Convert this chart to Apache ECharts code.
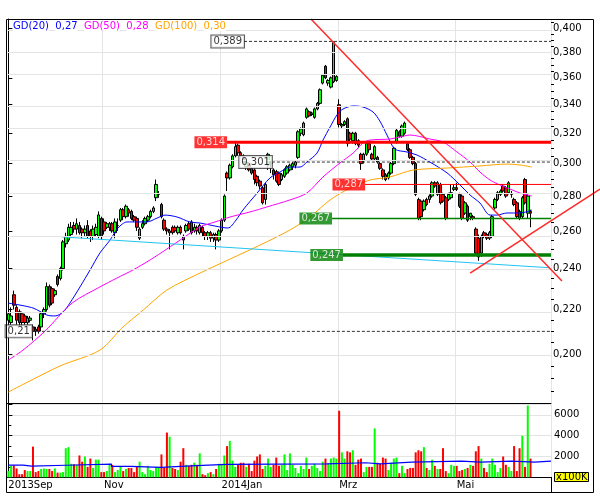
<!DOCTYPE html>
<html><head><meta charset="utf-8">
<script src="https://cdn.jsdelivr.net/npm/echarts@6/dist/echarts.min.js"></script>
<style>html,body{margin:0;padding:0;background:#fff}#c{width:600px;height:500px}</style>
</head><body><div id="c"></div>
<script>
// ---------- data (prices in thousandths) ----------
const slotCount = 199;
const monthIdx = [0, 35, 78, 121, 164];
const monthNames = ['2013Sep', 'Nov', '2014Jan', 'Mrz', 'Mai'];

const openK = [215,214,227,221,219,218,217,214,215,212,211,212,212,218,220,231,230,227,236,235,
240,253,255,258,263,261,263,261,259,263,260,257,258,257,267,265,262,262,264,259,
263,266,272,268,272,271,268,267,256,262,264,266,268,271,279,281,275,266,261,259,
262,262,259,262,257,260,264,265,260,262,259,262,259,257,259,256,258,255,260,266,
294,291,298,305,312,307,305,298,300,297,296,292,289,285,278,299,300,296,295,294,
290,292,294,296,298,299,304,320,319,331,335,333,331,337,341,356,369,356,353,357,
358,340,325,326,330,320,315,320,315,306,302,306,313,306,303,304,300,296,293,291,
294,300,314,321,318,320,313,309,304,300,278,277,272,278,278,280,288,281,287,281,
279,278,279,284,285,281,280,270,274,268,268,261,256,248,259,258,256,257,273,278,
281,286,285,282,281,278,276,271,268,290,270,271];
const highK = [222,221,229,222,220,219,218,217,217,213,212,213,219,221,233,232,231,230,237,241,
255,259,264,265,265,267,265,262,263,266,261,263,264,271,268,267,265,265,265,267,
267,273,273,275,273,272,269,268,262,266,268,269,272,274,290,283,276,267,262,261,
263,263,263,263,258,264,265,266,264,263,264,263,260,260,260,259,259,261,267,281,
295,300,306,314,313,308,306,302,301,298,297,293,290,286,288,307,302,297,296,295,
294,297,299,300,301,302,322,324,328,338,336,335,338,342,352,363,370,359,361,389,
362,344,327,329,331,321,321,321,316,307,307,314,314,307,312,305,301,297,294,295,
301,311,323,322,326,328,314,310,305,301,279,278,278,279,281,289,289,289,288,282,
280,282,287,287,288,282,281,277,275,270,269,262,258,258,260,259,260,269,279,283,
284,287,286,289,283,279,277,272,280,291,281,272];
const lowK = [213,213,220,213,212,212,213,213,214,206,208,209,210,216,219,221,222,226,231,234,
239,251,254,257,259,258,258,256,257,256,254,255,257,256,255,258,261,260,259,256,
260,265,266,267,268,266,265,260,255,261,263,265,267,270,277,279,267,260,258,250,
258,259,258,258,250,259,260,258,259,258,258,257,255,255,254,254,250,254,259,265,
283,290,297,304,305,304,300,296,295,293,287,286,284,275,275,296,294,290,288,286,
289,291,293,295,296,297,303,318,318,330,331,332,330,336,340,355,359,354,352,356,
357,324,323,325,311,313,313,312,310,296,300,305,307,302,302,300,296,290,289,290,
293,299,313,317,317,319,308,303,299,280,266,266,271,274,276,279,285,280,275,276,
266,277,278,283,283,273,266,269,265,266,266,247,244,246,256,255,255,256,272,277,
280,282,279,281,279,274,267,266,267,275,267,262];
const closeK = [218,217,222,215,214,214,214,216,216,210,210,210,218,220,231,222,223,229,232,240,
254,257,262,262,261,264,259,259,261,257,257,261,262,269,257,260,264,264,260,265,
263,272,268,274,270,267,266,262,261,264,267,268,271,273,287,281,268,261,260,260,
259,260,262,259,255,263,261,259,262,260,263,259,257,259,256,258,255,260,266,280,
291,299,305,311,307,305,301,301,296,294,290,288,286,276,287,306,300,293,289,287,
293,296,298,299,300,301,321,323,327,337,332,334,337,341,351,362,360,358,360,388,
361,326,326,328,313,316,320,313,312,300,306,313,309,303,311,301,297,292,290,294,
300,310,322,318,325,327,309,304,300,281,267,268,277,275,280,288,286,288,276,277,
267,281,282,285,284,274,267,276,266,270,267,248,246,257,257,256,259,268,278,282,
283,283,280,288,281,275,268,267,279,276,280,270];
// volume in units of 100K
const volume = [600,1100,1150,850,300,300,700,600,600,2950,500,600,800,850,800,800,600,850,450,450,
500,2800,2900,1300,1250,1200,2100,1500,2000,1000,1800,900,1700,1700,500,500,600,1300,1200,500,
700,1000,600,800,900,900,500,1000,1500,500,300,1100,700,600,1000,1000,2200,900,4300,3900,
900,800,700,1500,2800,1200,1100,1200,1400,1200,2300,300,200,400,500,300,800,1300,1300,2100,
3000,3500,1600,1000,1200,1400,1400,1000,1300,600,1600,2000,2200,800,1100,1800,1000,1200,1900,1100,
1200,2200,700,2300,1200,900,400,1100,800,1900,800,1100,1300,900,600,1500,1800,1300,1800,1900,
1800,6400,2400,1800,2500,2400,2600,1200,1700,1800,500,1000,1000,1000,4700,1400,1300,1900,1800,700,
1400,1800,1900,400,1100,400,800,900,900,2400,2600,2500,2900,900,700,1700,1100,800,800,2800,
600,400,1200,1100,1100,600,700,800,900,1200,1100,2500,3000,1800,900,500,1300,1800,1200,500,
900,2000,1200,1000,600,3000,600,2800,4000,1000,6900,1800];
// volume moving average: [slot position, value]
const volAvg = [[0,1170],[5.4,1080],[8.5,1160],[20.9,1270],[37.7,1050],[44.8,950],[56,1050],[63,1150],
[71,1250],[80,1300],[116.5,1400],[130.6,1300],[136.2,1450],[147.5,1550],[165.8,1450],[172.8,1550],[184.1,1450],[192.5,1550],[198.5,1550]];

// moving averages: [slot position, price]
const gd20 = [[0,0.2230],[9,0.2207],[14.1,0.2174],[17.1,0.2170],[20,0.2188],[22.5,0.2230],[26.2,0.2308],[29.9,0.2393],
[33.5,0.2481],[37.2,0.2550],[40.1,0.2616],[43.4,0.2650],[47.1,0.2650],[50.7,0.2650],[54.4,0.2672],[57.3,0.2689],
[61.7,0.2678],[66.4,0.2650],[70.1,0.2644],[75.6,0.2627],[80.3,0.2616],[83.3,0.2661],[85.8,0.2718],[91,0.2818],
[95.7,0.2910],[99.4,0.2947],[103,0.2978],[106.7,0.2978],[109.2,0.3010],[112.9,0.3068],[115.1,0.3154],[117.7,0.3243],
[120.2,0.3327],[122.4,0.3369],[126.1,0.3391],[129.7,0.3384],[133.4,0.3348],[135.9,0.3284],[138.5,0.3188],[141.4,0.3094],
[145.8,0.3075],[149.5,0.3055],[154.2,0.3010],[160.5,0.2941],[165.2,0.2867],[168.9,0.2806],[172.5,0.2759],[176.2,0.2689],
[178.7,0.2689],[182.4,0.2701],[187.2,0.2701],[191.5,0.2718]];
const gd50 = [[0,0.1976],[5.35,0.2018],[13.4,0.2101],[23.3,0.2230],[33.5,0.2308],[39.7,0.2352],[45.6,0.2393],[51.8,0.2444],
[58,0.2502],[63.9,0.2561],[70.1,0.2622],[75.6,0.2650],[81.1,0.2678],[88.4,0.2707],[94.6,0.2736],[103,0.2777],
[109.2,0.2818],[115.1,0.2916],[121.3,0.3004],[126.1,0.3068],[129.7,0.3134],[132.3,0.3154],[139.6,0.3161],[143.3,0.3175],
[146.9,0.3188],[154.2,0.3161],[159,0.3141],[164.1,0.3075],[168.9,0.3010],[172.5,0.2947],[176.2,0.2897],[179.8,0.2867],
[183.5,0.2842],[187.2,0.2818],[191.5,0.2800]];
const gd100 = [[0,0.1846],[7.9,0.1890],[18.9,0.1951],[33.5,0.2018],[41.9,0.2119],[49.3,0.2197],[58,0.2293],[70.1,0.2377],
[81.1,0.2449],[92.1,0.2523],[103,0.2605],[110.3,0.2678],[117.7,0.2777],[125,0.2848],[132.3,0.2897],[139.6,0.2916],
[148,0.2959],[160.5,0.2972],[172.5,0.2985],[182.4,0.2997],[187.2,0.2991],[191.5,0.2978]];
const legendNames = ['GD(20)', 'GD(50)', 'GD(100)'];
const legendValues = [0.27, 0.28, 0.30];

// annotation lines: [slot position, price]
const supportLine = [[19.6, 0.2567], [198.1, 0.2404]];
const trendDown = [[110.7, 0.408], [202.5, 0.2337]];
const trendUp = [[168.9, 0.2377], [216.4, 0.2842]];
const levelValues = [0.389, 0.301, 0.21, 0.314, 0.287, 0.267, 0.247];
const levelStart  = [86.2, 96.4, 8.6, 80, 130.5, 118.4, 122.4];
const levelKind   = ['box', 'box', 'box', 'red', 'red', 'green', 'green'];
const levelWidth  = [1, 1, 1, 3, 1, 1.5, 3.5];

const yLabelValues = [0.20,0.22,0.24,0.26,0.28,0.30,0.32,0.34,0.36,0.38,0.40];
const yMinorTicks = [0.185,0.19,0.195,0.205,0.21,0.215,0.225,0.23,0.235,0.245,0.25,0.255,0.265,0.27,0.275,
0.285,0.29,0.295,0.305,0.31,0.315,0.325,0.33,0.335,0.345,0.35,0.355,0.365,0.37,0.375,0.385,0.39,0.395,0.405];
const yMin = 0.18033, yMax = 0.40799;
const volTicks = [2000, 4000, 6000];

// ---------- build ----------
const FONT = 'DejaVu Sans';
const P = v => Math.log10(v);
const K = v => P(v / 1000);
const comma = v => String(v).replace('.', ',');
const slots = Array.from({length: slotCount}, (_, i) => String(i));
const candles = openK.map((o, i) => [K(o), K(closeK[i]), K(lowK[i]), K(highK[i])]);
const volBars = volume.map((v, i) => ({value: v, itemStyle: {color: closeK[i] >= openK[i] ? '#00ff00' : '#ff0000'}}));
const toXY = arr => arr.map(p => [p[0], P(p[1])]);
const lastSlot = slotCount - 0.5;
const plotLeft = 7, plotRight = 551;
const slotW = (plotRight - plotLeft) / slotCount;
const wideMax = -0.5 + (600 - plotLeft) / slotW;   // overlay grid reaching the right edge of the picture

const series = [];
series.push({type: 'line', xAxisIndex: 2, yAxisIndex: 0, data: [], z: 0, silent: true,
  markLine: {silent: true, symbol: 'none', animation: false, label: {show: false},
    lineStyle: {color: '#e4e4e4', type: 'solid', width: 1},
    data: yLabelValues.map(v => ({yAxis: P(v)}))}});
series.push({type: 'candlestick', xAxisIndex: 0, yAxisIndex: 0, data: candles, barWidth: 3, z: 3,
  itemStyle: {color: '#00ff00', color0: '#ff0000', borderColor: '#000', borderColor0: '#000', borderWidth: 1}});
const maColors = ['#0000ff', '#ff00ff', '#ffa500'];
[gd20, gd50, gd100].forEach((d, k) => series.push({type: 'line', xAxisIndex: 2, yAxisIndex: 0, data: toXY(d),
  smooth: 0.3, symbol: 'none', z: 4, lineStyle: {color: maColors[k], width: 1}}));
series.push({type: 'line', xAxisIndex: 2, yAxisIndex: 0, data: toXY(supportLine), symbol: 'none', z: 4,
  lineStyle: {color: '#22c4f0', width: 1}});
levelValues.forEach((v, k) => {
  const kind = levelKind[k];
  const color = kind === 'box' ? '#333' : (kind === 'red' ? '#ff0000' : '#007f00');
  series.push({type: 'line', xAxisIndex: 2, yAxisIndex: 0, symbol: 'none', z: 5,
    data: [[levelStart[k], P(v)], [lastSlot, P(v)]],
    lineStyle: {color, width: levelWidth[k], type: kind === 'box' ? [3, 2] : 'solid'}});
});
[trendDown, trendUp].forEach(d => series.push({type: 'line', xAxisIndex: 4, yAxisIndex: 3, data: toXY(d),
  symbol: 'none', clip: false, z: 6, lineStyle: {color: '#ff2a2a', width: 1.5}}));
series.push({type: 'scatter', xAxisIndex: 2, yAxisIndex: 0, symbolSize: 0, z: 8, silent: true,
  data: levelValues.map((v, k) => {
    const kind = levelKind[k];
    return {value: [levelStart[k], P(v)], label: {show: true, position: 'left', distance: 0,
      formatter: comma(v), fontFamily: FONT, fontSize: 10, padding: [1, 2, 1, 2],
      color: kind === 'box' ? '#000' : '#fff',
      backgroundColor: kind === 'box' ? '#fff' : (kind === 'red' ? '#ff0000' : '#007f00'),
      borderColor: kind === 'box' ? '#333' : 'transparent', borderWidth: kind === 'box' ? 1 : 0}};
  })});
series.push({type: 'bar', xAxisIndex: 1, yAxisIndex: 2, data: volBars, barWidth: 2});
series.push({type: 'line', xAxisIndex: 3, yAxisIndex: 2, data: volAvg, step: 'end', symbol: 'none',
  lineStyle: {color: '#0000ff', width: 1.2}, z: 4});

const monthSplit = (i) => monthIdx.includes(Number(i)) && Number(i) > 0;
const legendText = legendNames.map((n, k) => {
  const t = ['b', 'm', 'o'][k];
  return `{${t}|${n}}  {${t}|${comma(legendValues[k].toFixed(2))}}`;
}).join('  ');
const option = {
  animation: false,
  backgroundColor: '#fff',
  title: [{
    left: 13, top: 21, padding: 0,
    text: legendText,
    textStyle: {fontFamily: FONT, fontSize: 10, fontWeight: 'normal', rich: {
      b: {color: '#0000ff', backgroundColor: '#fff', fontFamily: FONT, fontSize: 10},
      m: {color: '#ff00ff', backgroundColor: '#fff', fontFamily: FONT, fontSize: 10},
      o: {color: '#ffa500', backgroundColor: '#fff', fontFamily: FONT, fontSize: 10}}}
  }, {
    left: 554, top: 472, padding: [0, 1, 0, 2], text: 'x100K', backgroundColor: '#ffff00', borderColor: '#000', borderWidth: 1,
    textStyle: {fontFamily: FONT, fontSize: 10, fontWeight: 'normal', color: '#000'}
  }],
  grid: [
    {left: plotLeft, right: 600 - plotRight, top: 19, bottom: 97},
    {left: plotLeft, right: 600 - plotRight, top: 404.5, bottom: 22.7},
    {left: plotLeft, right: 0, top: 19, bottom: 97}
  ],
  xAxis: [
    {type: 'category', gridIndex: 0, data: slots, boundaryGap: true,
      axisLine: {show: true, lineStyle: {color: '#000'}}, axisTick: {show: false}, axisLabel: {show: false},
      splitLine: {show: true, interval: monthSplit, lineStyle: {color: '#e4e4e4'}}},
    {type: 'category', gridIndex: 1, data: slots, boundaryGap: true,
      axisLine: {show: true, lineStyle: {color: '#000'}}, axisTick: {show: false},
      axisLabel: {show: true, interval: (i) => monthIdx.includes(Number(i)), align: 'left', margin: 3,
        fontFamily: FONT, fontSize: 10, color: '#000',
        formatter: (v) => monthNames[monthIdx.indexOf(Number(v))] || ''},
      splitLine: {show: true, interval: monthSplit, lineStyle: {color: '#e4e4e4'}}},
    {type: 'value', gridIndex: 0, min: -0.5, max: lastSlot, show: false},
    {type: 'value', gridIndex: 1, min: -0.5, max: lastSlot, show: false},
    {type: 'value', gridIndex: 2, min: -0.5, max: wideMax, show: false}
  ],
  yAxis: [
    {type: 'value', gridIndex: 0, position: 'right', min: P(yMin), max: P(yMax),
      axisLine: {show: true, lineStyle: {color: '#000'}},
      axisTick: {show: true, length: 4, lineStyle: {color: '#000'}, customValues: yLabelValues.map(P)},
      axisLabel: {show: true, customValues: yLabelValues.map(P), margin: 2, fontFamily: FONT, fontSize: 10, color: '#000',
        formatter: v => Math.pow(10, v).toFixed(3).replace('.', ',')},
      splitLine: {show: false}},
    {type: 'value', gridIndex: 0, position: 'right', min: P(yMin), max: P(yMax),
      axisLine: {show: false}, axisLabel: {show: false}, splitLine: {show: false},
      axisTick: {show: true, length: 3, lineStyle: {color: '#000'}, customValues: yMinorTicks.map(P)}},
    {type: 'value', gridIndex: 1, position: 'right', min: 0, max: 7000, interval: 2000,
      axisLine: {show: true, lineStyle: {color: '#000'}},
      axisTick: {show: true, length: 4, lineStyle: {color: '#000'}},
      minorTick: {show: true, splitNumber: 2, length: 3, lineStyle: {color: '#000'}},
      axisLabel: {margin: 3, fontFamily: FONT, fontSize: 10, color: '#000',
        formatter: v => volTicks.includes(v) ? String(v) : ''},
      splitLine: {show: true, lineStyle: {color: '#e4e4e4'}}},
    {type: 'value', gridIndex: 2, min: P(yMin), max: P(yMax), show: false}
  ],
  graphic: [
    {type: 'rect', silent: true, z: 100, shape: {x: 6.5, y: 19.5, width: 587, height: 473},
      style: {fill: null, stroke: '#000', lineWidth: 1}},
    {type: 'line', silent: true, z: 100, shape: {x1: 551.5, y1: 477, x2: 551.5, y2: 492},
      style: {stroke: '#000', lineWidth: 1}}
  ],
  series
};
const chart = echarts.init(document.getElementById('c'), null, {renderer: 'canvas', width: 600, height: 500});
chart.setOption(option);
</script>
</body></html>
